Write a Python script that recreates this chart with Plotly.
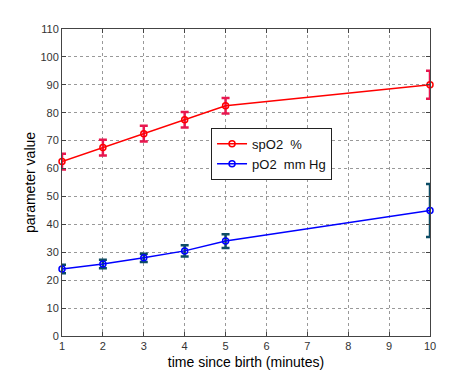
import plotly.graph_objects as go

time_min = [1, 2, 3, 4, 5, 10]
spo2 = [62.5, 67.5, 72.5, 77.5, 82.5, 90.0]
spo2_err = [2.8, 2.8, 2.8, 2.8, 2.8, 5.0]
po2 = [24.0, 25.8, 28.0, 30.5, 34.0, 45.0]
po2_err = [1.5, 1.5, 1.5, 2.0, 2.5, 9.5]

fig = go.Figure()
fig.add_trace(go.Scatter(
    x=time_min, y=spo2, mode="lines+markers", name="spO2  %", cliponaxis=False,
    line=dict(color="#ff0000", width=1.5),
    marker=dict(symbol="circle-open", size=6, color="#ff0000", line=dict(width=1.5)),
    error_y=dict(type="data", array=spo2_err, color="#e8174f", thickness=2.5, width=4),
))
fig.add_trace(go.Scatter(
    x=time_min, y=po2, mode="lines+markers", name="pO2  mm Hg", cliponaxis=False,
    line=dict(color="#0000ff", width=1.5),
    marker=dict(symbol="circle-open", size=6, color="#0000ff", line=dict(width=1.5)),
    error_y=dict(type="data", array=po2_err, color="#0d4d66", thickness=2.5, width=4),
))

axis_common = dict(
    showline=True, linecolor="#444", linewidth=1, mirror="ticks",
    ticks="inside", ticklen=4, tickcolor="#444",
    showgrid=True, gridcolor="#999999", griddash="dot", gridwidth=1,
    zeroline=False, automargin=False,
    tickfont=dict(family="Liberation Sans, Arial", size=11, color="#333"),
)
fig.update_xaxes(range=[1, 10], tickvals=list(range(1, 11)),
                 title=dict(text="time since birth (minutes)", standoff=5,
                            font=dict(family="Liberation Sans, Arial", size=14, color="#000")),
                 **axis_common)
fig.update_yaxes(range=[0, 110], tickvals=list(range(0, 111, 10)),
                 title=dict(text="parameter value", standoff=1,
                            font=dict(family="Liberation Sans, Arial", size=14, color="#000")),
                 **axis_common)

# page body adds an 8px offset; figure sized so the plot lands at the reference position
fig.update_layout(
    width=460, height=362,
    margin=dict(l=54, r=38, t=21, b=34, autoexpand=False),
    plot_bgcolor="white", paper_bgcolor="white",
    legend=dict(x=0.405, y=0.678, xanchor="left", yanchor="top",
                bordercolor="#222", borderwidth=1, bgcolor="white",
                font=dict(family="Liberation Sans, Arial", size=13, color="#111"),
                tracegroupgap=0, itemwidth=30),
)

fig.write_html("out.html")
